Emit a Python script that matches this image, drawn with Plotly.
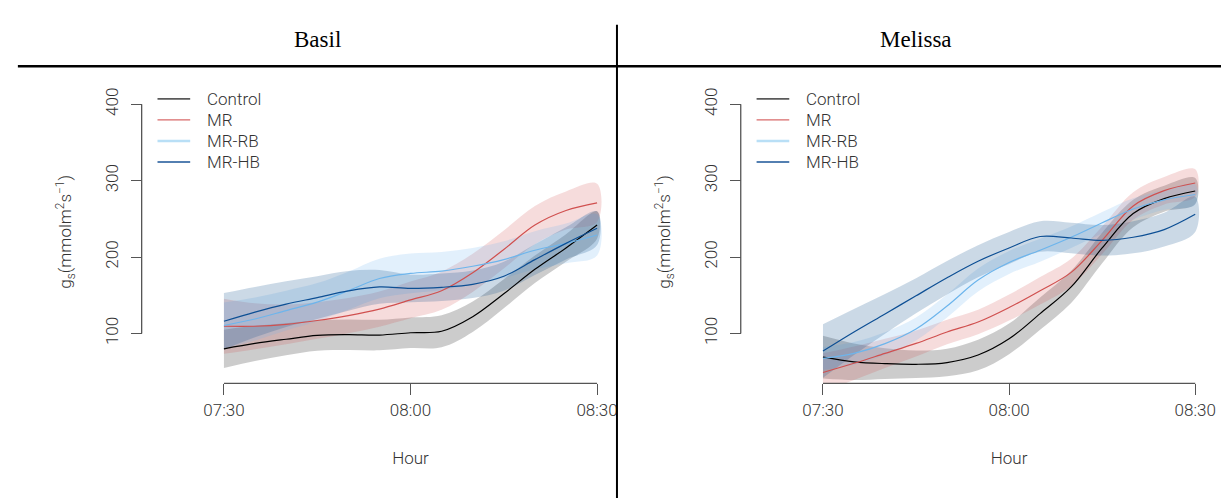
import plotly.graph_objects as go

# ---------------- data ----------------
times = ["07:30", "07:35", "07:40", "07:45", "07:50", "07:55", "08:00",
         "08:05", "08:10", "08:15", "08:20", "08:25", "08:30"]
tick_vals = ["07:30", "08:00", "08:30"]
y_ticks = [100, 200, 300, 400]
panels = ["Basil", "Melissa"]
series = ["Control", "MR", "MR-RB", "MR-HB"]

# Basil: fitted mean and half-width of confidence band
basil_control = [80, 87, 92.5, 97.5, 98.5, 98, 101, 103, 122, 152, 184, 212, 242]
basil_control_ci = [25, 23, 21, 20, 20, 20, 20, 21, 20, 19, 18, 18, 18]
basil_mr = [109.5, 109.5, 112, 117, 123.5, 132, 144, 156, 179.5, 210, 242, 261, 271]
basil_mr_ci = [36, 30, 26, 24, 23, 23, 24, 25, 25, 25, 25, 25, 25]
basil_mrrb = [110.5, 119, 130, 141, 156, 172, 178.6, 181.7, 188, 196.7, 209, 218, 229]
basil_mrrb_ci = [30, 28, 26, 25, 25, 26, 26, 25, 24, 24, 25, 26, 27]
basil_mrhb = [116, 128, 138.5, 147, 155.8, 161, 159, 160.5, 164.4, 175, 196.7, 218, 237.7]
basil_mrhb_ci = [37, 33, 30, 28, 26, 22, 18, 18, 18, 19, 20, 21, 22]

# Melissa
melissa_control = [69, 63, 60.6, 59.7, 62, 71.8, 93, 126, 161, 212, 257, 276.5, 286.5]
melissa_control_ci = [28, 24, 20, 18, 18, 20, 20, 21, 21, 20, 18, 17, 17]
melissa_mr = [49, 61, 74, 87, 102, 115, 134, 156, 180, 222, 267, 287, 297]
melissa_mr_ci = [25, 22, 19, 17, 16, 16, 17, 18, 18, 18, 18, 18, 18]
melissa_mrrb = [67.4, 74, 86.8, 106, 136, 170, 193, 209, 226, 245, 263, 275, 282]
melissa_mrrb_ci = [15, 15, 15, 15, 15, 15, 15, 15, 14, 14, 14, 13, 13]
melissa_mrhb = [77, 102, 125.6, 149.4, 173, 194.6, 212, 227, 225, 222, 226, 236, 256]
melissa_mrhb_ci = [35, 30, 26, 23, 22, 21, 21, 20, 20, 20, 21, 22, 23]

data = {
    "Basil": {
        "Control": (basil_control, basil_control_ci),
        "MR": (basil_mr, basil_mr_ci),
        "MR-RB": (basil_mrrb, basil_mrrb_ci),
        "MR-HB": (basil_mrhb, basil_mrhb_ci),
    },
    "Melissa": {
        "Control": (melissa_control, melissa_control_ci),
        "MR": (melissa_mr, melissa_mr_ci),
        "MR-RB": (melissa_mrrb, melissa_mrrb_ci),
        "MR-HB": (melissa_mrhb, melissa_mrhb_ci),
    },
}

# ---------------- styles ----------------
line_col = {"Control": "#000000", "MR": "#D0504F", "MR-RB": "#6DB5EC", "MR-HB": "#0D4F94"}
band_col = {"Control": "rgba(0,0,0,0.2)", "MR": "rgba(210,80,80,0.2)",
            "MR-RB": "rgba(108,182,238,0.2)", "MR-HB": "rgba(20,80,140,0.22)"}
leg_col = {"Control": "#5a5a5a", "MR": "#D86A6A", "MR-RB": "#B9DFF6", "MR-HB": "#1A5597"}
leg_w = {"Control": 1.6, "MR": 1.2, "MR-RB": 2.6, "MR-HB": 1.6}

W, H = 1227, 498
DAY = "2024-01-01 "
tx = [DAY + t for t in times]

FONT = "Roboto"
TXT = "#333333"
AX = "#555555"

# panel geometry (pixels)
px_left = {"Basil": 205, "Melissa": 810}
px_right = {"Basil": 612, "Melissa": 1216}
yaxis_px = {"Basil": 137, "Melissa": 742}
plot_top, plot_bot = 88.7, 382
y_range = [34.7, 414]

fig = go.Figure()

for i, p in enumerate(panels):
    xa = "x" if i == 0 else "x2"
    ya = "y" if i == 0 else "y2"
    # bands
    for s in series:
        m, ci = data[p][s]
        up = [a + b for a, b in zip(m, ci)]
        lo = [a - b for a, b in zip(m, ci)]
        fig.add_trace(go.Scatter(
            x=tx + tx[::-1], y=up + lo[::-1], fill="toself", fillcolor=band_col[s],
            line=dict(width=0, shape="spline", smoothing=1), mode="lines",
            hoverinfo="skip", showlegend=False, xaxis=xa, yaxis=ya))
    # lines
    for s in series:
        m, ci = data[p][s]
        fig.add_trace(go.Scatter(
            x=tx, y=m, mode="lines", name=s,
            line=dict(color=line_col[s], width=1.2, shape="spline", smoothing=1),
            showlegend=False, xaxis=xa, yaxis=ya))

def xaxis_cfg(p, anchor):
    return dict(
        domain=[px_left[p] / W, px_right[p] / W], anchor=anchor, type="date",
        range=[DAY + "07:27:36", DAY + "08:32:24"],
        tickvals=[DAY + t for t in tick_vals], ticktext=tick_vals,
        ticks="outside", ticklen=11, tickwidth=1.3, tickcolor=AX,
        showline=False, showgrid=False, zeroline=False,
        tickfont=dict(family=FONT, size=17, color=TXT, weight=300),
        title=dict(text="Hour", font=dict(family=FONT, size=17, color=TXT, weight=300), standoff=33),
    )

def yaxis_cfg(p):
    return dict(
        domain=[(H - plot_bot) / H, (H - plot_top) / H], anchor="free",
        position=yaxis_px[p] / W, range=y_range, tickvals=y_ticks,
        ticks="outside", ticklen=11, tickwidth=1.3, tickcolor=AX, tickangle=-90,
        ticklabelstandoff=6,
        showline=False, showgrid=False, zeroline=False,
        tickfont=dict(family=FONT, size=17, color=TXT, weight=300),
    )

fig.update_layout(
    width=W, height=H, margin=dict(l=0, r=0, t=0, b=0),
    paper_bgcolor="white", plot_bgcolor="white", showlegend=False,
    xaxis=xaxis_cfg("Basil", "y"), yaxis=yaxis_cfg("Basil"),
    xaxis2=xaxis_cfg("Melissa", "y2"), yaxis2=yaxis_cfg("Melissa"),
)

shapes = []
annotations = []
for i, p in enumerate(panels):
    xr = "x" if i == 0 else "x2"
    yr = "y" if i == 0 else "y2"
    # R-style axis lines spanning tick range
    shapes.append(dict(type="line", xref=xr, yref=yr + " domain",
                       x0=DAY + tick_vals[0], x1=DAY + tick_vals[-1], y0=0, y1=0,
                       line=dict(color=AX, width=1.3)))
    shapes.append(dict(type="line", xref="paper", yref=yr,
                       x0=yaxis_px[p] / W, x1=yaxis_px[p] / W, y0=y_ticks[0], y1=y_ticks[-1],
                       line=dict(color=AX, width=1.3)))
    # y title
    annotations.append(dict(
        text="g<sub>s</sub>(mmolm<sup>2</sup>s<sup>−1</sup>)", textangle=-90,
        xref="paper", yref="paper", x=(yaxis_px[p] - 77) / W, y=(H - 228) / H,
        showarrow=False, xanchor="center", yanchor="middle",
        font=dict(family=FONT, size=17, color=TXT, weight=300)))
    # strip title
    annotations.append(dict(
        text=p, xref="paper", yref="paper",
        x=(315 if i == 0 else 919) / W, y=(H - 34) / H, showarrow=False,
        xanchor="center", yanchor="middle",
        font=dict(family="Liberation Serif", size=23, color="#000000")))
    # legend
    off = yaxis_px[p] - 137
    for k, s in enumerate(series):
        yy = 94 + k * 21.3
        shapes.append(dict(type="line", xref="paper", yref="paper",
                           x0=(153 + off) / W, x1=(186 + off) / W,
                           y0=(H - yy) / H, y1=(H - yy) / H,
                           line=dict(color=leg_col[s], width=leg_w[s])))
        annotations.append(dict(
            text=s, xref="paper", yref="paper", x=(201 + off) / W, y=(H - yy) / H,
            showarrow=False, xanchor="left", yanchor="middle",
            font=dict(family=FONT, size=17, color=TXT, weight=300)))

# strip frame lines
shapes.append(dict(type="line", xref="paper", yref="paper", x0=12 / W, x1=1, y0=(H - 61) / H,
                   y1=(H - 61) / H, line=dict(color="black", width=2.5)))
shapes.append(dict(type="line", xref="paper", yref="paper", x0=617 / W, x1=617 / W,
                   y0=0, y1=(H - 19) / H, line=dict(color="black", width=2)))

fig.update_layout(shapes=shapes, annotations=annotations)
fig.write_html("out.html")
